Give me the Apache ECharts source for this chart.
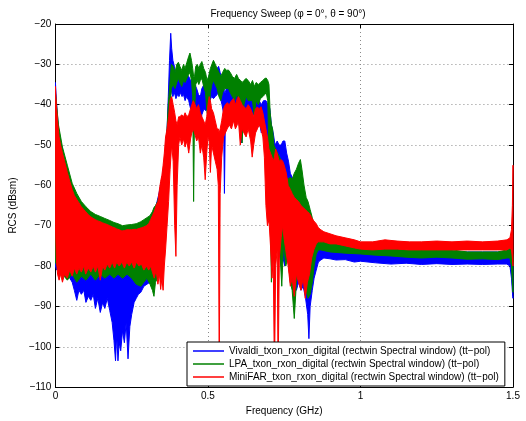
<!DOCTYPE html>
<html>
<head>
<meta charset="utf-8">
<script src="https://cdn.jsdelivr.net/npm/echarts@6/dist/echarts.min.js"></script>
<style>html,body{margin:0;padding:0;background:#fff}#chart{width:526px;height:421px}</style>
</head>
<body>
<div id="chart"></div>
<script>
// Series names
const seriesNames = [
  'Vivaldi_txon_rxon_digital (rectwin Spectral window) (tt\u2212pol)',
  'LPA_txon_rxon_digital (rectwin Spectral window) (tt\u2212pol)',
  'MiniFAR_txon_rxon_digital (rectwin Spectral window) (tt\u2212pol)'
];
const seriesColors = ['#0000ff', '#008000', '#ff0000'];
const xTicks = [0, 0.5, 1, 1.5];
const yTicks = [-110, -100, -90, -80, -70, -60, -50, -40, -30, -20];

// Each row: [frequency GHz, upper edge dBsm, lower edge dBsm] of the noisy trace band
const vivaldiBand = [
[0.000,-34.5,-80],[0.004,-40,-81],[0.010,-46,-79],[0.016,-49,-80],[0.023,-51,-80.5],[0.030,-53.5,-81],
[0.039,-56.5,-82],[0.047,-59,-83],[0.055,-61,-84],[0.062,-62.5,-86],[0.070,-63.5,-88.5],[0.077,-64.5,-86],
[0.085,-65.5,-87],[0.093,-66.5,-86],[0.100,-67,-89],[0.108,-67.5,-87.5],[0.116,-68,-88.5],[0.124,-68.5,-87],
[0.131,-68.5,-90.5],[0.139,-69,-88],[0.147,-69.5,-91.5],[0.155,-69.5,-89],[0.162,-70,-90.5],[0.170,-70,-88],
[0.178,-70,-91],[0.186,-70.5,-94],[0.192,-70.5,-98.5],[0.197,-70.5,-103.5],[0.201,-71,-97],[0.205,-71,-103.5],
[0.209,-71,-99],[0.214,-71,-101],[0.220,-71,-96],[0.226,-71,-99],[0.232,-71,-94],[0.238,-71,-103],
[0.244,-70.5,-95],[0.250,-70.5,-92],[0.258,-70.5,-89],[0.265,-70.5,-88],[0.272,-70.5,-87],[0.280,-70,-86.5],
[0.290,-70,-85],[0.300,-69,-84.5],[0.310,-68,-84],[0.320,-66.5,-83.5],[0.330,-65,-82.5],[0.338,-62.5,-80],
[0.345,-60,-76],[0.352,-57,-72],[0.358,-54,-66],[0.362,-50,-62],[0.366,-46,-52],[0.370,-38,-45],
[0.374,-29,-40],[0.378,-22.3,-36],[0.381,-26,-37],[0.385,-29,-38],[0.390,-30.5,-37],[0.395,-33,-38.5],
[0.400,-33.5,-37.5],[0.405,-32.5,-38],[0.410,-33,-37],[0.415,-32.5,-38],[0.420,-33.5,-37.5],[0.425,-34,-39],
[0.430,-33,-38],[0.437,-33,-39],[0.443,-34,-41],[0.450,-33.5,-40],[0.457,-35,-42],[0.463,-36,-44],
[0.469,-37.5,-43.5],[0.475,-38,-46],[0.480,-36,-42.5],[0.487,-35,-41],[0.493,-36,-41.5],[0.500,-35,-40.5],
[0.506,-32,-39],[0.512,-31.5,-38],[0.518,-33,-38.5],[0.524,-32.5,-38],[0.530,-31,-37.5],[0.535,-30.5,-37],
[0.540,-32,-38],[0.546,-34,-40],[0.551,-35,-42],[0.554,-37,-62],[0.557,-37,-44],[0.563,-35,-41],
[0.570,-34,-40],[0.577,-33.5,-41.5],[0.585,-35,-42],[0.592,-36,-43],[0.600,-36.5,-44],[0.605,-37,-46],
[0.610,-38,-49.5],[0.616,-37,-43],[0.623,-36,-42],[0.630,-35.5,-43],[0.637,-37,-44],[0.645,-38,-43],
[0.652,-37,-42],[0.660,-37.5,-43],[0.668,-39,-44],[0.675,-40,-47],[0.682,-39,-44],[0.690,-39,-46],
[0.697,-40,-50],[0.703,-41,-55],[0.708,-45,-62],[0.714,-47,-63],[0.720,-50,-65],[0.727,-49,-70],
[0.733,-50,-76],[0.740,-50,-80],[0.746,-49,-78],[0.752,-49,-80],[0.758,-52,-76],[0.764,-54,-79],
[0.770,-57,-80],[0.776,-58,-84],[0.783,-60,-82],[0.790,-61,-86],[0.797,-62,-84],[0.805,-63,-86],
[0.812,-64,-85],[0.820,-66,-88],[0.827,-67,-92],[0.831,-68,-98],[0.835,-69,-90],[0.842,-71,-86],
[0.848,-72.5,-83],[0.855,-73.5,-81],[0.862,-74,-79],[0.870,-74.5,-78.5],[0.880,-75,-78],[0.900,-75,-78.2],
[0.920,-75.5,-78.5],[0.950,-76,-78.4],[0.980,-76,-79],[1.000,-76.5,-78.8],[1.050,-76.5,-79.2],[1.100,-76.5,-79.5],
[1.150,-76.5,-79.3],[1.200,-76.5,-79.6],[1.250,-76.5,-79.4],[1.300,-76.5,-79.6],[1.350,-76.5,-79.5],[1.400,-76.5,-79.6],
[1.450,-76.5,-79.5],[1.480,-76.5,-79.5],[1.490,-77,-80],[1.495,-78,-83],[1.499,-79,-87.5],[1.500,-80,-88]
];

const lpaBand = [
[0.000,-37,-79],[0.010,-45,-81],[0.023,-50.5,-82],[0.039,-55,-83.5],[0.055,-59.5,-82],[0.070,-62,-84],
[0.085,-64,-82.5],[0.100,-65.3,-83.5],[0.116,-66.5,-82],[0.131,-67.2,-83.5],[0.147,-67.7,-82],[0.162,-68.2,-83],
[0.178,-68.7,-82],[0.192,-69.2,-83],[0.205,-69.5,-82],[0.220,-70,-83],[0.235,-69.8,-82],[0.250,-69.7,-83],
[0.265,-69.5,-84.5],[0.280,-69,-85],[0.290,-68.5,-84],[0.300,-68,-83],[0.310,-67.5,-84.5],[0.318,-66.5,-86],
[0.323,-65.5,-87.5],[0.328,-65,-84],[0.335,-64,-83],[0.342,-62,-82],[0.348,-60,-78],[0.354,-57,-73],
[0.358,-55,-68],[0.362,-51,-62],[0.366,-46,-56],[0.370,-40,-48],[0.375,-35,-42],[0.380,-30,-36],
[0.386,-30.5,-35],[0.392,-32,-36],[0.398,-30,-34.5],[0.403,-29.5,-33.5],[0.408,-30.5,-34.5],[0.414,-31.5,-35.5],
[0.420,-30,-34],[0.425,-31,-34.5],[0.431,-29.5,-33.5],[0.437,-28,-32.5],[0.441,-27.2,-32],[0.446,-29,-34],
[0.450,-31,-38],[0.453,-33,-64],[0.456,-33,-42],[0.460,-30.5,-35],[0.465,-30,-34],[0.470,-31,-35],
[0.475,-30,-34],[0.480,-29.3,-33.5],[0.486,-31,-35.5],[0.492,-32,-37],[0.497,-34,-42],[0.502,-33,-43],
[0.508,-31,-37],[0.513,-30,-35],[0.518,-29,-34],[0.524,-30,-35],[0.530,-31,-36],[0.536,-32,-38],
[0.542,-33,-39],[0.548,-32,-37],[0.555,-31,-36],[0.561,-31.5,-36],[0.567,-31.4,-36],[0.573,-32,-37],
[0.580,-33,-38],[0.587,-33.5,-39],[0.594,-32.5,-37.5],[0.600,-33.5,-39],[0.607,-34,-41],[0.612,-34.5,-49.5],
[0.618,-34,-40],[0.625,-33.5,-38],[0.632,-34,-39],[0.640,-35,-39],[0.646,-34,-39],[0.652,-35.5,-43],
[0.658,-34.5,-39],[0.665,-35,-40],[0.672,-34.5,-38.5],[0.680,-34,-38],[0.686,-33.5,-37.5],[0.691,-33.4,-37],
[0.696,-34,-39],[0.700,-35,-52],[0.704,-42,-66],[0.708,-45,-84],[0.712,-46,-70],[0.716,-50,-62],
[0.722,-51,-65],[0.728,-52,-70],[0.735,-53,-75],[0.742,-54.5,-85],[0.748,-56,-74],[0.755,-58,-80],
[0.762,-58.5,-78],[0.770,-58,-84],[0.776,-58.5,-86],[0.783,-57,-93],[0.790,-56,-84],[0.797,-54.5,-80],
[0.803,-53.6,-79],[0.808,-56,-81],[0.815,-60,-84],[0.822,-63,-86],[0.828,-64,-88],[0.835,-66,-87],
[0.842,-68,-84],[0.848,-70,-80],[0.855,-71.5,-77],[0.862,-72.5,-76],[0.870,-73,-76],[0.900,-73.5,-76.5],
[0.950,-74.5,-76.8],[1.000,-75,-77],[1.050,-75.5,-77.3],[1.100,-75.5,-77.5],[1.150,-76,-77.8],[1.200,-76,-78],
[1.250,-76,-77.8],[1.300,-76,-78],[1.350,-76.5,-78.3],[1.400,-76.5,-78.2],[1.450,-76.5,-78.4],[1.480,-76,-78],
[1.490,-75.5,-78],[1.495,-76,-80],[1.499,-77,-86],[1.500,-78,-86.5]
];

const miniFarBand = [
[0.000,-35.5,-70],[0.003,-40,-78],[0.007,-44,-82],[0.012,-48,-83.5],[0.017,-50,-82],[0.023,-52,-84],
[0.030,-54,-82],[0.039,-56.8,-83],[0.047,-59,-81],[0.055,-61,-82.5],[0.062,-62.5,-80.5],[0.070,-63.5,-82],
[0.077,-64.3,-80.5],[0.085,-65.3,-81.5],[0.093,-66,-80],[0.099,-66.5,-82],[0.108,-67.3,-80.5],[0.116,-67.8,-81.5],
[0.124,-68.2,-80],[0.131,-68.5,-81.5],[0.139,-68.8,-80],[0.147,-69,-83.5],[0.155,-69.3,-80],[0.162,-69.5,-81],
[0.170,-69.7,-79.5],[0.178,-70,-80.5],[0.186,-70.3,-79],[0.194,-70.5,-80.5],[0.201,-70.8,-79],[0.209,-71,-80],
[0.218,-71.3,-79],[0.226,-71.2,-80.5],[0.234,-71,-79],[0.242,-71,-80],[0.250,-71,-79],[0.258,-70.9,-80.5],
[0.266,-70.9,-79],[0.274,-70.7,-80],[0.282,-70.5,-79.5],[0.290,-70.3,-81],[0.298,-70,-80],[0.306,-69.5,-81],
[0.312,-68.5,-80],[0.318,-67.5,-81.5],[0.324,-66.5,-83],[0.330,-65,-81],[0.336,-64,-84.5],[0.341,-61,-82],
[0.345,-59,-85.8],[0.349,-57.5,-83],[0.353,-55,-86],[0.357,-52,-80],[0.361,-48,-76],[0.366,-46,-70],
[0.371,-43,-64],[0.376,-38.8,-56],[0.381,-38,-50],[0.386,-40,-54],[0.391,-42,-70],[0.395,-44,-77.6],
[0.399,-45,-60],[0.404,-43,-50],[0.408,-43,-48],[0.414,-42.5,-50],[0.420,-43,-48.5],[0.425,-42,-50.5],
[0.431,-43,-49],[0.437,-42.5,-52],[0.443,-41,-48.5],[0.447,-40,-47],[0.452,-39,-46],[0.458,-40,-47.5],
[0.463,-41,-49],[0.469,-40,-48],[0.475,-42,-52],[0.480,-43,-50],[0.486,-44,-53],[0.491,-45,-58.6],
[0.496,-43,-52],[0.500,-40,-48],[0.504,-38,-49],[0.508,-39,-56.8],[0.512,-41,-50],[0.518,-42,-52],
[0.524,-44,-54],[0.530,-46,-56],[0.534,-46,-60],[0.537,-47,-108],[0.540,-46,-62],[0.545,-44,-53],
[0.551,-41,-48],[0.557,-40,-47],[0.563,-39.5,-46],[0.570,-40,-45],[0.577,-39,-46],[0.584,-38.5,-44],
[0.590,-40,-46],[0.596,-38.5,-45],[0.600,-38,-44],[0.606,-39,-50],[0.612,-40,-46],[0.618,-40.5,-47],
[0.625,-41,-48],[0.632,-40,-46],[0.640,-41,-49],[0.645,-42,-53],[0.650,-43,-50],[0.656,-41,-47],
[0.662,-40.6,-46],[0.668,-41,-45],[0.674,-40.5,-46],[0.680,-42,-48],[0.685,-44,-53],[0.690,-46,-65],
[0.695,-48,-70],[0.700,-51,-68.5],[0.705,-52,-75],[0.710,-53,-83],[0.714,-54,-78],[0.718,-53,-108],
[0.722,-51,-80],[0.727,-52,-76],[0.730,-53,-108],[0.734,-54,-78],[0.740,-53.6,-73],[0.745,-54,-70],
[0.750,-55,-73.4],[0.757,-57,-77],[0.763,-60,-80],[0.770,-61,-85],[0.776,-62,-83],[0.783,-63,-87.5],
[0.790,-63.5,-82],[0.797,-64,-84],[0.805,-65,-86],[0.812,-65.5,-83],[0.819,-66,-88],[0.826,-66.5,-84],
[0.833,-67,-82],[0.840,-68,-78],[0.847,-68.8,-76],[0.855,-69.5,-74.5],[0.862,-70.5,-74],[0.870,-71,-74],
[0.880,-71.5,-74],[0.900,-72,-74.5],[0.920,-72.5,-74.5],[0.950,-73,-75],[0.980,-73.5,-75.5],[1.000,-74,-75.8],
[1.040,-74,-76],[1.080,-73.5,-75.8],[1.120,-73.8,-75.8],[1.160,-74,-76],[1.200,-74,-76],[1.250,-73.8,-76],
[1.300,-74,-76],[1.350,-73.8,-76],[1.400,-74,-76],[1.450,-73.8,-76],[1.480,-73.5,-76],[1.490,-73,-75.5],
[1.495,-71,-76],[1.498,-65,-78],[1.500,-55,-80]
];

const bands = [vivaldiBand, lpaBand, miniFarBand];
const FONT = '"Liberation Sans", Arial, Helvetica, sans-serif';
const fmtMinus = v => String(v).replace('-', '\u2212');

function bandRenderer(rows, color) {
  return function (params, api) {
    if (params.dataIndex !== 0) return null;
    const pts = [];
    for (let i = 0; i < rows.length; i++) pts.push(api.coord([rows[i][0], rows[i][1]]));
    for (let i = rows.length - 1; i >= 0; i--) pts.push(api.coord([rows[i][0], rows[i][2]]));
    return {
      type: 'polygon',
      shape: { points: pts },
      style: { fill: color, stroke: color, lineWidth: 1 }
    };
  };
}

const grid = { left: 53, right: 13, top: 24, bottom: 33 };
const gridLine = { show: true, lineStyle: { color: '#8a8a8a', type: [1, 3], width: 1 } };

const chart = echarts.init(document.getElementById('chart'), null, { renderer: 'canvas' });
chart.setOption({
  animation: false,
  backgroundColor: '#fff',
  textStyle: { fontFamily: FONT },
  title: {
    text: 'Frequency Sweep (\u03c6 = 0\u00b0, \u03b8 = 90\u00b0)',
    left: 283, top: 4, textAlign: 'center',
    textStyle: { fontSize: 10, fontWeight: 'normal', color: '#000', fontFamily: FONT }
  },
  grid: grid,
  legend: {
    orient: 'vertical',
    left: 187, top: 342,
    z: 20,
    padding: [3, 6, 3, 6],
    itemGap: 1,
    itemWidth: 31, itemHeight: 1.5,
    backgroundColor: '#fff',
    borderColor: '#000', borderWidth: 1,
    selectedMode: false,
    textStyle: { fontSize: 10, lineHeight: 12, color: '#000', fontFamily: FONT },
    data: seriesNames.map((n, i) => ({ name: n, icon: 'rect', itemStyle: { color: seriesColors[i] } }))
  },
  xAxis: [{
    type: 'value', min: xTicks[0], max: xTicks[xTicks.length - 1], interval: 0.5,
    name: 'Frequency (GHz)', nameLocation: 'middle', nameGap: 13,
    nameTextStyle: { fontSize: 10, color: '#000', fontFamily: FONT },
    axisLine: { show: true, onZero: false, lineStyle: { color: '#000', width: 1 } },
    axisTick: { show: true, inside: true, length: 4, lineStyle: { color: '#000' } },
    axisLabel: { fontSize: 10, color: '#000', margin: 4, fontFamily: FONT },
    splitLine: gridLine
  }, {
    type: 'value', position: 'top', min: xTicks[0], max: xTicks[xTicks.length - 1], interval: 0.5,
    axisLine: { show: true, onZero: false, lineStyle: { color: '#000', width: 1 } },
    axisTick: { show: true, inside: true, length: 4, lineStyle: { color: '#000' } },
    axisLabel: { show: false }, splitLine: { show: false }
  }],
  yAxis: [{
    type: 'value', min: yTicks[0], max: yTicks[yTicks.length - 1], interval: 10,
    name: 'RCS (dBsm)', nameLocation: 'middle', nameGap: 29, nameRotate: 90,
    nameTextStyle: { fontSize: 10, color: '#000', fontFamily: FONT },
    axisLine: { show: true, onZero: false, lineStyle: { color: '#000', width: 1 } },
    axisTick: { show: true, inside: true, length: 4, lineStyle: { color: '#000' } },
    axisLabel: { fontSize: 10, color: '#000', margin: 4, formatter: fmtMinus, fontFamily: FONT },
    splitLine: gridLine
  }, {
    type: 'value', position: 'right', min: yTicks[0], max: yTicks[yTicks.length - 1], interval: 10,
    axisLine: { show: true, onZero: false, lineStyle: { color: '#000', width: 1 } },
    axisTick: { show: true, inside: true, length: 4, lineStyle: { color: '#000' } },
    axisLabel: { show: false }, splitLine: { show: false }
  }],
  series: bands.map((rows, i) => ({
    name: seriesNames[i],
    type: 'custom',
    xAxisIndex: 0, yAxisIndex: 0,
    clip: true,
    color: seriesColors[i],
    itemStyle: { color: seriesColors[i] },
    encode: { x: 0, y: [1, 2] },
    data: rows,
    renderItem: bandRenderer(rows, seriesColors[i]),
    z: 2 + i
  }))
});
</script>
</body>
</html>
